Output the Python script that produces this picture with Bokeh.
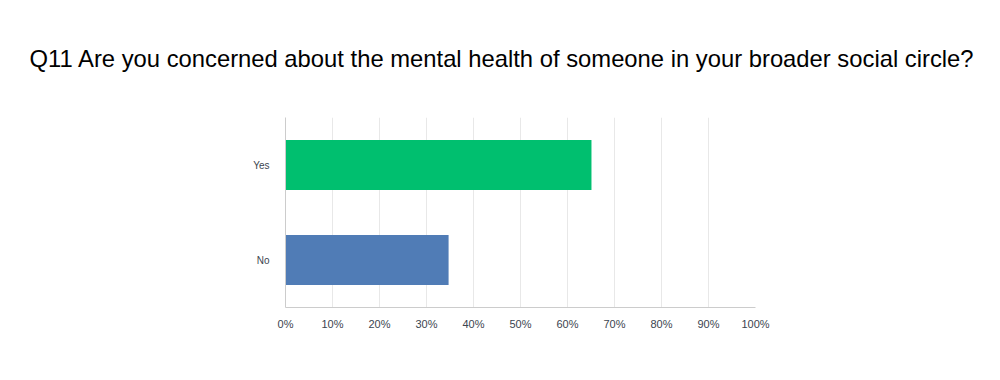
from bokeh.plotting import figure
from bokeh.models import FixedTicker
from bokeh.embed import file_html
from bokeh.resources import INLINE

title_text = "Q11 Are you concerned about the mental health of someone in your broader social circle?"
categories = ["No", "Yes"]
values = [34.7, 65.1]
colors = ["#507cb6", "#00bf6f"]
x_ticks = [0, 10, 20, 30, 40, 50, 60, 70, 80, 90, 100]

W, H = 984, 364
p = figure(width=W, height=H, y_range=categories, x_range=(0, 100),
           output_backend="svg", toolbar_location=None,
           min_border_left=285, min_border_right=229,
           min_border_top=117, min_border_bottom=57)
p.outline_line_color = None
p.background_fill_color = "white"
p.border_fill_color = "white"

p.title.text = title_text
p.title.align = "left"
p.title.vertical_align = "top"
p.title.offset = -256
p.title.standoff = 88
p.title.text_font = "Liberation Sans"
p.title.text_font_size = "23.8px"
p.title.text_font_style = "normal"
p.title.text_color = "#000000"

p.hbar(y=categories, right=values, left=0, height=0.525, color=colors, line_color=None)

p.xaxis.ticker = FixedTicker(ticks=x_ticks)
p.xaxis.major_label_overrides = {t: f"{t}%" for t in x_ticks}
p.xaxis.major_tick_line_color = None
p.xaxis.minor_tick_line_color = None
p.xaxis.axis_line_color = "#cccccc"
p.xaxis.axis_line_width = 1
p.xaxis.major_label_text_font = "Liberation Sans"
p.xaxis.major_label_text_font_size = "11px"
p.xaxis.major_label_text_color = "#3b4550"
p.xaxis.major_label_standoff = 4

p.yaxis.major_tick_line_color = None
p.yaxis.minor_tick_line_color = None
p.yaxis.axis_line_color = "#cccccc"
p.yaxis.major_label_text_font = "Liberation Sans"
p.yaxis.major_label_text_font_size = "10px"
p.yaxis.major_label_text_color = "#3b4550"
p.yaxis.major_label_standoff = 10

p.xgrid.grid_line_color = "#e8e8e8"
p.xgrid.ticker = FixedTicker(ticks=x_ticks)
p.ygrid.grid_line_color = None

open("out.html", "w").write(file_html(p, INLINE))
